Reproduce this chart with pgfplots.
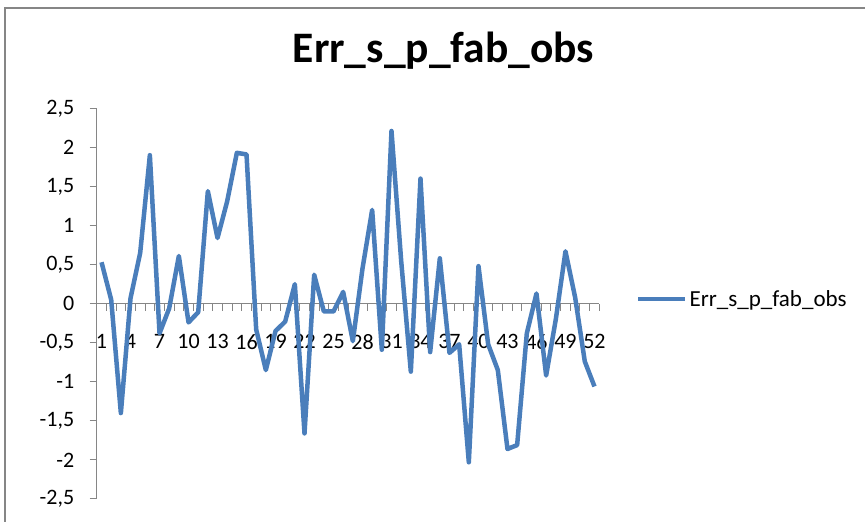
\documentclass[border=0pt]{standalone}
\usepackage{pgfplots}
\pgfplotsset{compat=1.18}
\usepackage{fontspec}
\setmainfont{Carlito}
\definecolor{exblue}{HTML}{4A7EBB}
\definecolor{axgray}{HTML}{868686}
\pgfplotstableread{
x y
1 0.53
2 0.05
3 -1.40
4 0.07
5 0.65
6 1.90
7 -0.38
8 -0.06
9 0.61
10 -0.24
11 -0.11
12 1.44
13 0.84
14 1.31
15 1.93
16 1.91
17 -0.33
18 -0.85
19 -0.35
20 -0.23
21 0.25
22 -1.66
23 0.37
24 -0.10
25 -0.10
26 0.15
27 -0.48
28 0.45
29 1.20
30 -0.59
31 2.21
32 0.55
33 -0.87
34 1.60
35 -0.62
36 0.58
37 -0.63
38 -0.52
39 -2.03
40 0.48
41 -0.52
42 -0.85
43 -1.86
44 -1.81
45 -0.38
46 0.13
47 -0.92
48 -0.20
49 0.67
50 0.08
51 -0.74
52 -1.06
}\errdata
\begin{document}
\begin{tikzpicture}[x=1pt,y=1pt]
\useasboundingbox (0,0) rectangle (865,522);
\draw[axgray, line width=1.2pt] (5,-5) -- (5,514) -- (870,514);
\begin{axis}[
  at={(96.7pt,23pt)}, anchor=south west,
  scale only axis, width=502.6pt, height=390.7pt,
  xmin=0.5, xmax=52.5, ymin=-2.5, ymax=2.5,
  axis x line=middle, axis y line=left,
  axis line style={axgray, line width=1pt, -},
  every tick/.style={axgray, line width=1pt},
  tick align=outside,
  xtick={1,4,...,52},
  xticklabels={1,4,7,10,13,16,19,22,25,28,31,34,37,40,43,46,49,52},
  minor xtick={0.5,1.5,...,52.5},
  major x tick style={draw=none},
  minor tick length=7pt,
  ytick={-2.5,-2,...,2.5},
  yticklabels={{-2,5},-2,{-1,5},-1,{-0,5},0,{0,5},1,{1,5},2,{2,5}},
  major tick length=7pt,
  xticklabel style={font=\fontsize{22}{24}\selectfont, anchor=north, yshift=-20pt},
  yticklabel style={font=\fontsize{22}{24}\selectfont, anchor=east, xshift=-12pt},
  title={\fontsize{43.5}{46}\selectfont\bfseries Err\_s\_p\_fab\_obs},
  title style={at={(axis description cs:0.690,1.103)}, anchor=base},
  legend style={draw=none, fill=none, at={(axis description cs:1.073,0.512)}, anchor=west,
    font=\fontsize{23}{25}\selectfont, inner sep=0pt,
    nodes={inner sep=2pt}},
  legend image code/.code={\draw[#1] (0pt,0pt) -- (47pt,0pt);},
  clip=false,
]
\addplot[exblue, line width=4.5pt, line join=round] table[x=x,y=y]{\errdata};
\addlegendentry{Err\_s\_p\_fab\_obs}
\end{axis}
\end{tikzpicture}
\end{document}
